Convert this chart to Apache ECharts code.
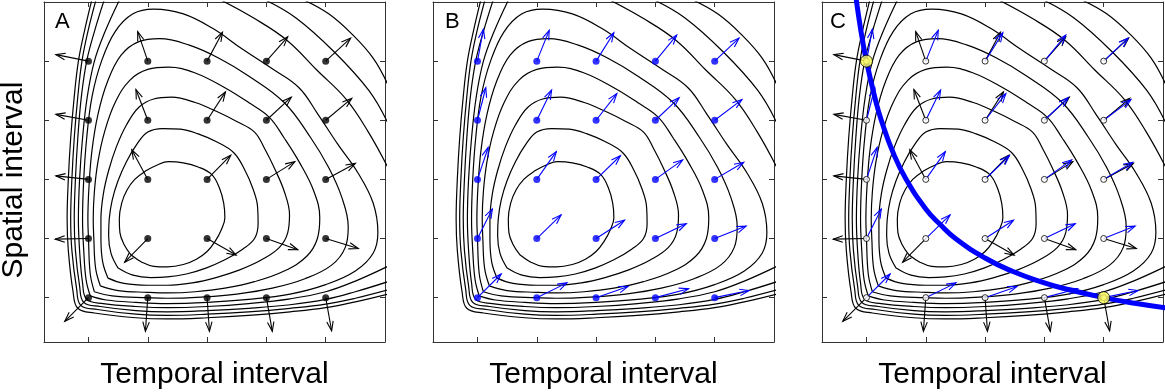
<!DOCTYPE html>
<html>
<head>
<meta charset="utf-8">
<script src="https://cdn.jsdelivr.net/npm/echarts@6/dist/echarts.min.js"></script>
<style>
html, body { margin: 0; padding: 0; background: #fff; }
#main { width: 1165px; height: 392px; }
</style>
</head>
<body>
<div id="main"></div>
<script>
// tick positions, same on both axes
const ticks = [1, 2, 3, 4, 5];

// contour lines as [temporal, spatial], innermost first
const c1 = [[1.72,1.72],[1.6,1.9],[1.53,2.1],[1.52,2.33],[1.56,2.6],[1.65,2.82],[1.78,3.0],[1.96,3.14],[2.15,3.24],[2.35,3.3],[2.6,3.28],[2.85,3.21],[3.08,3.08],[3.21,2.85],[3.28,2.6],[3.3,2.35],[3.24,2.15],[3.14,1.96],[3.0,1.78],[2.82,1.65],[2.6,1.56],[2.33,1.52],[2.1,1.53],[1.9,1.6],[1.72,1.72]];
const c2 = [[1.5,1.5],[1.38,1.75],[1.34,2.05],[1.35,2.33],[1.4,2.65],[1.5,2.98],[1.64,3.3],[1.82,3.6],[2.0,3.8],[2.25,3.86],[2.55,3.85],[2.85,3.77],[3.15,3.64],[3.45,3.45],[3.64,3.15],[3.77,2.85],[3.85,2.55],[3.86,2.25],[3.8,2.0],[3.6,1.82],[3.3,1.64],[2.98,1.5],[2.65,1.4],[2.33,1.35],[2.05,1.34],[1.75,1.38],[1.5,1.5]];
const c3 = [[1.33,1.33],[1.24,1.6],[1.21,2.0],[1.21,2.33],[1.25,2.75],[1.34,3.15],[1.47,3.55],[1.64,3.92],[1.85,4.22],[2.1,4.36],[2.4,4.39],[2.8,4.3],[3.2,4.13],[3.5,3.98],[3.8,3.8],[3.98,3.5],[4.13,3.2],[4.3,2.8],[4.39,2.4],[4.36,2.1],[4.22,1.85],[3.92,1.64],[3.55,1.47],[3.15,1.34],[2.75,1.25],[2.33,1.21],[2.0,1.21],[1.6,1.24],[1.33,1.33]];
const c4 = [[1.2,1.2],[1.12,1.5],[1.09,2.0],[1.08,2.33],[1.1,2.8],[1.16,3.3],[1.27,3.8],[1.45,4.3],[1.7,4.68],[2.0,4.86],[2.35,4.9],[2.8,4.8],[3.3,4.55],[3.7,4.3],[4.05,4.05],[4.3,3.7],[4.55,3.3],[4.8,2.8],[4.9,2.35],[4.86,2.0],[4.68,1.7],[4.3,1.45],[3.8,1.27],[3.3,1.16],[2.8,1.1],[2.33,1.08],[2.0,1.09],[1.5,1.12],[1.2,1.2]];
const c5 = [[1.1,1.1],[1.03,1.4],[1.0,2.0],[0.99,2.33],[1.01,2.9],[1.06,3.5],[1.16,4.1],[1.32,4.65],[1.55,5.1],[1.85,5.33],[2.2,5.38],[2.7,5.27],[3.2,5.05],[3.7,4.75],[4.3,4.3],[4.75,3.7],[5.05,3.2],[5.27,2.7],[5.38,2.2],[5.33,1.85],[5.1,1.55],[4.65,1.32],[4.1,1.16],[3.5,1.06],[2.9,1.01],[2.33,0.99],[2.0,1.0],[1.4,1.03],[1.1,1.1]];
const c6 = [[1.03,1.03],[0.96,1.3],[0.92,1.8],[0.9,2.33],[0.92,3.0],[0.97,3.7],[1.06,4.4],[1.22,5.0],[1.45,5.5],[1.75,5.8],[2.1,5.88],[2.6,5.8],[3.1,5.55],[3.6,5.2],[4.1,4.87],[4.55,4.55],[4.87,4.1],[5.2,3.6],[5.55,3.1],[5.8,2.6],[5.88,2.1],[5.8,1.75],[5.5,1.45],[5.0,1.22],[4.4,1.06],[3.7,0.97],[3.0,0.92],[2.33,0.9],[1.8,0.92],[1.3,0.96],[1.03,1.03]];
// outer levels leave the frame: a corner piece, and for three of them an upper-right piece
const c7 = [[1.53,6.05],[1.28,5.5],[1.1,5.0],[0.98,4.4],[0.9,3.7],[0.85,3.0],[0.83,2.33],[0.85,1.8],[0.9,1.25],[0.97,0.97],[1.25,0.9],[1.8,0.85],[2.33,0.83],[3.0,0.85],[3.7,0.9],[4.4,0.98],[5.0,1.1],[5.5,1.28],[6.05,1.53]];
const c7b = [[3.2,6.05],[3.8,5.72],[4.35,5.35],[4.85,4.85],[5.35,4.35],[5.72,3.8],[6.05,3.2]];
const c8 = [[1.27,6.05],[1.1,5.5],[0.97,5.0],[0.88,4.4],[0.82,3.7],[0.78,3.0],[0.76,2.33],[0.78,1.8],[0.85,1.2],[0.92,0.92],[1.2,0.85],[1.8,0.78],[2.33,0.76],[3.0,0.78],[3.7,0.82],[4.4,0.88],[5.0,0.97],[5.5,1.1],[6.05,1.27]];
const c8b = [[3.95,6.05],[4.5,5.73],[5.15,5.15],[5.73,4.5],[6.05,3.95]];
const c9 = [[1.13,6.05],[0.99,5.5],[0.89,5.0],[0.82,4.4],[0.76,3.7],[0.72,3.0],[0.7,2.33],[0.72,1.8],[0.8,1.15],[0.87,0.87],[1.15,0.8],[1.8,0.72],[2.33,0.7],[3.0,0.72],[3.7,0.76],[4.4,0.82],[5.0,0.89],[5.5,0.99],[6.05,1.13]];
const c9b = [[4.6,6.05],[5.05,5.8],[5.45,5.45],[5.8,5.05],[6.05,4.6]];
const c10 = [[1.06,6.05],[0.93,5.5],[0.83,5.0],[0.76,4.4],[0.7,3.7],[0.66,3.0],[0.64,2.33],[0.66,1.8],[0.74,1.1],[0.82,0.82],[1.1,0.74],[1.8,0.66],[2.33,0.64],[3.0,0.66],[3.7,0.7],[4.4,0.76],[5.0,0.83],[5.5,0.93],[6.05,1.06]];
const contours = [c1, c2, c3, c4, c5, c6, c7, c7b, c8, c8b, c9, c9b, c10];

// arrow components at the grid nodes, rows go from spatial 1 (bottom) to 5 (top)
const blackDx = [
  [-0.40, -0.04, 0.04, 0.10, 0.10],
  [-0.56, -0.39, 0.49, 0.53, 0.55],
  [-0.55, -0.27, 0.40, 0.48, 0.50],
  [-0.55, -0.20, 0.31, 0.42, 0.44],
  [-0.55, -0.17, 0.26, 0.36, 0.42]
];
const blackDy = [
  [-0.40, -0.57, -0.57, -0.57, -0.56],
  [-0.01, -0.40, -0.28, -0.19, -0.17],
  [0.06, 0.50, 0.41, 0.30, 0.27],
  [0.10, 0.52, 0.48, 0.39, 0.37],
  [0.11, 0.50, 0.49, 0.41, 0.39]
];
const blueDx = [
  [0.40, 0.51, 0.54, 0.56, 0.58],
  [0.25, 0.41, 0.48, 0.52, 0.53],
  [0.18, 0.33, 0.41, 0.46, 0.49],
  [0.14, 0.25, 0.35, 0.40, 0.46],
  [0.10, 0.21, 0.30, 0.36, 0.41]
];
const blueDy = [
  [0.40, 0.25, 0.19, 0.15, 0.12],
  [0.50, 0.40, 0.31, 0.25, 0.21],
  [0.54, 0.47, 0.40, 0.33, 0.29],
  [0.55, 0.51, 0.45, 0.38, 0.35],
  [0.54, 0.52, 0.48, 0.44, 0.39]
];

// thick curve of panel C and the two points marked on it
const curveC = [[0.8,6.25],[0.9,5.55],[1,5],[1.15,4.35],[1.25,4],[1.45,3.45],[1.67,3],[2,2.5],[2.24,2.24],[2.5,2],[3,1.67],[3.45,1.45],[4,1.25],[4.35,1.15],[5,1],[5.55,0.9],[6.25,0.8]];
const markedC = [[1, 5], [5, 1]];

const BLUE = '#0000ff';
const FONT = '"Liberation Sans", Arial, sans-serif';
const panelLeft = [44, 433, 822];
const letterX = [55, 445, 830];
const letters = ['A', 'B', 'C'];

function nodes() {
  const out = [];
  ticks.forEach(y => ticks.forEach(x => out.push([x, y])));
  return out;
}

function arrowData(dxs, dys) {
  const out = [];
  ticks.forEach((y, i) => ticks.forEach((x, j) => out.push([x, y, dxs[i][j], dys[i][j]])));
  return out;
}

function arrowItem(color) {
  return function (params, api) {
    const x = api.value(0), y = api.value(1);
    const p0 = api.coord([x, y]);
    const p1 = api.coord([x + api.value(2), y + api.value(3)]);
    const ang = Math.atan2(p1[1] - p0[1], p1[0] - p0[0]);
    const len = 10, spread = 0.33;
    const h1 = [p1[0] - len * Math.cos(ang - spread), p1[1] - len * Math.sin(ang - spread)];
    const h2 = [p1[0] - len * Math.cos(ang + spread), p1[1] - len * Math.sin(ang + spread)];
    return {
      type: 'group',
      children: [
        { type: 'line', shape: { x1: p0[0], y1: p0[1], x2: p1[0], y2: p1[1] }, style: { stroke: color, lineWidth: 1.1 } },
        { type: 'polyline', shape: { points: [h1, p1, h2] }, style: { stroke: color, fill: null, lineWidth: 1.1 } }
      ]
    };
  };
}

function axis(k, pos) {
  return {
    gridIndex: k, type: 'value', min: 0.25, max: 6, position: pos,
    axisLine: { show: true, onZero: false, lineStyle: { color: '#333', width: 1 } },
    axisTick: { show: true, inside: true, length: 5, customValues: ticks, lineStyle: { color: '#333', width: 1 } },
    axisLabel: { show: false },
    splitLine: { show: false }
  };
}

const grid = [], xAxis = [], yAxis = [], series = [], graphic = [];

panelLeft.forEach((left, k) => {
  grid.push({ left: left, top: 2, width: 341, height: 340 });
  xAxis.push(axis(k, 'bottom'), axis(k, 'top'));
  yAxis.push(axis(k, 'left'), axis(k, 'right'));
  const ax = { xAxisIndex: 2 * k, yAxisIndex: 2 * k };

  contours.forEach(c => {
    series.push(Object.assign({
      type: 'line', data: c, showSymbol: false, smooth: 0.4, silent: true, z: 2,
      lineStyle: { color: '#000', width: 1.2 }
    }, ax));
  });

  if (k === 0 || k === 2) {
    series.push(Object.assign({
      type: 'custom', data: arrowData(blackDx, blackDy), encode: { x: 0, y: 1 },
      renderItem: arrowItem('#000'), silent: true, z: 3
    }, ax));
  }
  if (k === 1 || k === 2) {
    series.push(Object.assign({
      type: 'custom', data: arrowData(blueDx, blueDy), encode: { x: 0, y: 1 },
      renderItem: arrowItem(BLUE), silent: true, z: 3
    }, ax));
  }
  if (k === 2) {
    series.push(Object.assign({
      type: 'line', data: curveC, showSymbol: false, smooth: true, silent: true, z: 4,
      lineStyle: { color: BLUE, width: 5 }
    }, ax));
  }

  const dotStyle = [
    { color: '#000', borderWidth: 0 },
    { color: BLUE, borderWidth: 0 },
    { color: '#fff', borderColor: '#000', borderWidth: 1 }
  ][k];
  series.push(Object.assign({
    type: 'scatter', data: nodes(), symbolSize: k === 2 ? 6 : 7, silent: true, z: 5,
    itemStyle: dotStyle
  }, ax));

  if (k === 2) {
    series.push(Object.assign({
      type: 'scatter', data: markedC, symbolSize: 12, silent: true, z: 6,
      itemStyle: { color: '#ffff55', borderColor: '#000', borderWidth: 1 }
    }, ax));
  }

  graphic.push({
    type: 'text', left: letterX[k], top: 11,
    style: { text: letters[k], font: '22px ' + FONT, fill: '#000' }
  });
  graphic.push({
    type: 'text', x: left + 170.5, y: 375,
    style: { text: 'Temporal interval', font: '30px ' + FONT, fill: '#000', textAlign: 'center', textVerticalAlign: 'middle' }
  });
});

graphic.push({
  type: 'text', x: 14, y: 180, rotation: Math.PI / 2,
  style: { text: 'Spatial interval', font: '30px ' + FONT, fill: '#000', textAlign: 'center', textVerticalAlign: 'middle' }
});

const chart = echarts.init(document.getElementById('main'), null, { renderer: 'canvas' });
chart.setOption({
  animation: false,
  backgroundColor: '#fff',
  grid: grid,
  xAxis: xAxis,
  yAxis: yAxis,
  series: series,
  graphic: graphic
});
</script>
</body>
</html>
